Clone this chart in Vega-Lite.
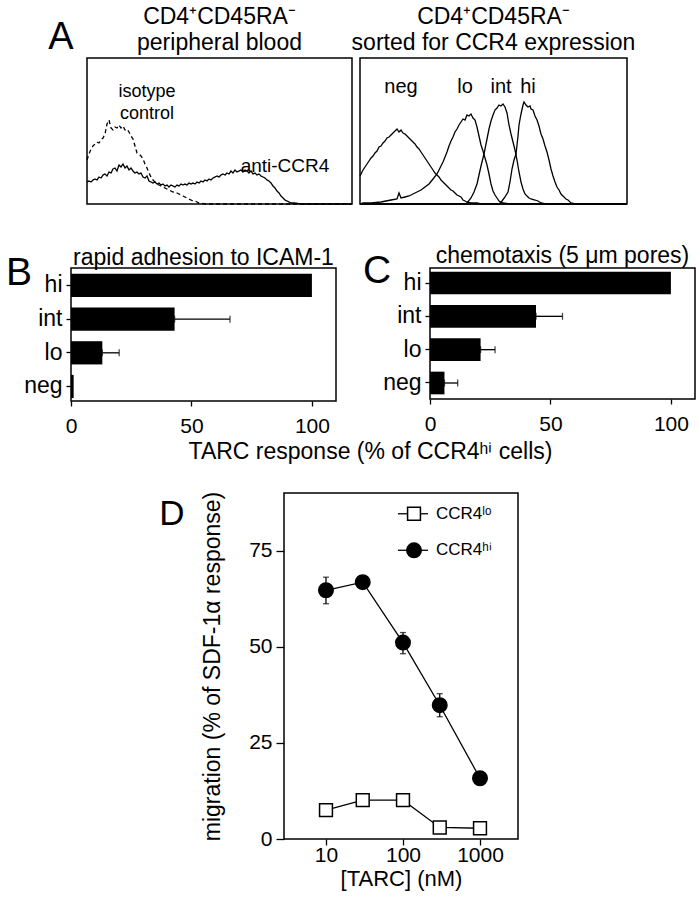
{
"$schema": "https://vega.github.io/schema/vega-lite/v6.json",
"background": "white",
"padding": {"left": 5, "top": 5, "right": 2, "bottom": 2},
"config": {
  "font": "Liberation Sans",
  "view": {"stroke": "black", "strokeWidth": 1.5},
  "axis": {"domain": false, "grid": false, "tickColor": "black", "tickWidth": 1.3, "labelColor": "black", "titleColor": "black", "labelFont": "Liberation Sans", "titleFont": "Liberation Sans", "titleFontWeight": "normal", "labelFlush": false, "labelOverlap": false},
  "title": {"font": "Liberation Sans", "fontWeight": "normal", "color": "black"},
  "text": {"font": "Liberation Sans", "color": "black"}
},
"spacing": 10,
"vconcat": [
  {
    "bounds": "flush",
    "spacing": 8,
    "hconcat": [
      {"width": 8, "height": 146, "view": {"stroke": null}, "data": {"values": [{}]},
       "mark": {"type": "text", "fontSize": 38, "align": "center", "baseline": "alphabetic"},
       "encoding": {"x": {"datum": -10, "scale": {"domain": [0, 8], "nice": false}, "axis": null}, "y": {"datum": 155, "scale": {"domain": [0, 146], "nice": false}, "axis": null}, "text": {"value": "A"}}},
      {
        "width": 265, "height": 146,
        "title": {"text": ["CD4⁺CD45RA⁻", "peripheral blood"], "fontSize": 23, "lineHeight": 26, "offset": 3, "frame": "group"},
        "data": {"values": "stain,ch,n\nanti-CCR4,0,22\nanti-CCR4,2,23\nanti-CCR4,4,22\nanti-CCR4,6,24\nanti-CCR4,8,25\nanti-CCR4,10,24\nanti-CCR4,12,27\nanti-CCR4,14,26\nanti-CCR4,16,29\nanti-CCR4,18,30\nanti-CCR4,20,28\nanti-CCR4,22,32\nanti-CCR4,24,31\nanti-CCR4,26,35\nanti-CCR4,28,36\nanti-CCR4,30,33\nanti-CCR4,32,39\nanti-CCR4,34,37\nanti-CCR4,36,40\nanti-CCR4,38,36\nanti-CCR4,40,38\nanti-CCR4,42,34\nanti-CCR4,44,36\nanti-CCR4,46,33\nanti-CCR4,48,31\nanti-CCR4,50,32\nanti-CCR4,52,30\nanti-CCR4,54,31\nanti-CCR4,56,27\nanti-CCR4,58,26\nanti-CCR4,60,28\nanti-CCR4,62,23\nanti-CCR4,64,22\nanti-CCR4,66,21\nanti-CCR4,68,22\nanti-CCR4,70,20\nanti-CCR4,72,21\nanti-CCR4,74,19\nanti-CCR4,76,20\nanti-CCR4,78,18\nanti-CCR4,80,19\nanti-CCR4,82,17\nanti-CCR4,84,19\nanti-CCR4,86,18\nanti-CCR4,88,17\nanti-CCR4,90,19\nanti-CCR4,92,18\nanti-CCR4,94,20\nanti-CCR4,96,19\nanti-CCR4,98,20\nanti-CCR4,100,19\nanti-CCR4,102,21\nanti-CCR4,104,20\nanti-CCR4,106,21\nanti-CCR4,108,20\nanti-CCR4,110,22\nanti-CCR4,112,21\nanti-CCR4,114,23\nanti-CCR4,116,22\nanti-CCR4,118,24\nanti-CCR4,120,23\nanti-CCR4,122,25\nanti-CCR4,124,24\nanti-CCR4,126,26\nanti-CCR4,128,27\nanti-CCR4,130,28\nanti-CCR4,132,27\nanti-CCR4,134,29\nanti-CCR4,136,30\nanti-CCR4,138,29\nanti-CCR4,140,31\nanti-CCR4,142,30\nanti-CCR4,144,33\nanti-CCR4,146,31\nanti-CCR4,148,34\nanti-CCR4,150,32\nanti-CCR4,152,33\nanti-CCR4,154,34\nanti-CCR4,156,32\nanti-CCR4,158,34\nanti-CCR4,160,33\nanti-CCR4,162,31\nanti-CCR4,164,33\nanti-CCR4,166,30\nanti-CCR4,168,31\nanti-CCR4,170,29\nanti-CCR4,172,30\nanti-CCR4,174,28\nanti-CCR4,176,27\nanti-CCR4,178,26\nanti-CCR4,180,24\nanti-CCR4,182,23\nanti-CCR4,184,21\nanti-CCR4,186,18\nanti-CCR4,188,16\nanti-CCR4,190,13\nanti-CCR4,192,11\nanti-CCR4,194,8\nanti-CCR4,196,6\nanti-CCR4,198,4\nanti-CCR4,200,3\nanti-CCR4,202,2\nanti-CCR4,204,1\nanti-CCR4,208,1\nanti-CCR4,214,0\nanti-CCR4,265,0\nisotype,0,44\nisotype,2,50\nisotype,4,55\nisotype,6,58\nisotype,8,60\nisotype,10,62\nisotype,12,61\nisotype,14,64\nisotype,16,66\nisotype,18,70\nisotype,20,80\nisotype,22,84\nisotype,24,76\nisotype,26,74\nisotype,28,77\nisotype,30,76\nisotype,32,79\nisotype,34,76\nisotype,36,78\nisotype,38,74\nisotype,40,75\nisotype,42,72\nisotype,44,68\nisotype,46,65\nisotype,48,58\nisotype,50,51\nisotype,52,50\nisotype,54,48\nisotype,56,45\nisotype,58,40\nisotype,60,36\nisotype,62,31\nisotype,64,27\nisotype,66,24\nisotype,68,22\nisotype,70,20\nisotype,72,19\nisotype,74,18\nisotype,76,17\nisotype,78,16\nisotype,80,15\nisotype,82,14\nisotype,84,13\nisotype,86,12\nisotype,88,12\nisotype,90,11\nisotype,92,10\nisotype,94,9\nisotype,96,8\nisotype,98,7\nisotype,100,6\nisotype,102,5\nisotype,104,4\nisotype,106,3\nisotype,108,3\nisotype,110,2\nisotype,112,1\nisotype,114,1\nisotype,118,0\nisotype,265,0", "format": {"type": "csv", "parse": {"ch": "number", "n": "number"}}},
        "layer": [
          {"mark": {"type": "line", "color": "black", "strokeWidth": 1.3},
           "encoding": {
             "x": {"field": "ch", "type": "quantitative", "scale": {"domain": [0, 265], "nice": false}, "axis": null},
             "y": {"field": "n", "type": "quantitative", "scale": {"domain": [0, 146], "nice": false}, "axis": null},
             "strokeDash": {"field": "stain", "type": "nominal", "scale": {"domain": ["anti-CCR4", "isotype"], "range": [[1, 0], [4, 3]]}, "legend": null}
           }},
          {"data": {"values": [{}]}, "mark": {"type": "text", "fontSize": 18, "align": "center", "baseline": "alphabetic"}, "encoding": {"x": {"datum": 60}, "y": {"datum": 107}, "text": {"value": "isotype"}}},
          {"data": {"values": [{}]}, "mark": {"type": "text", "fontSize": 18, "align": "center", "baseline": "alphabetic"}, "encoding": {"x": {"datum": 60}, "y": {"datum": 85}, "text": {"value": "control"}}},
          {"data": {"values": [{}]}, "mark": {"type": "text", "fontSize": 19, "align": "center", "baseline": "alphabetic"}, "encoding": {"x": {"datum": 198}, "y": {"datum": 32}, "text": {"value": "anti-CCR4"}}}
        ]
      },
      {
        "width": 267, "height": 146,
        "title": {"text": ["CD4⁺CD45RA⁻", "sorted for CCR4 expression"], "fontSize": 23, "lineHeight": 26, "offset": 3, "frame": "group"},
        "data": {"values": "grp,ch,n\nneg,0,28\nneg,1,30\nneg,3,34\nneg,5,37\nneg,7,40\nneg,9,43\nneg,11,46\nneg,13,48\nneg,15,51\nneg,17,53\nneg,19,57\nneg,21,58\nneg,23,61\nneg,25,63\nneg,27,66\nneg,29,67\nneg,31,69\nneg,33,71\nneg,35,73\nneg,37,75\nneg,39,72\nneg,41,74\nneg,43,71\nneg,45,70\nneg,47,68\nneg,49,66\nneg,51,64\nneg,53,62\nneg,55,60\nneg,57,57\nneg,59,55\nneg,61,52\nneg,63,49\nneg,65,46\nneg,67,43\nneg,69,40\nneg,71,37\nneg,73,34\nneg,75,31\nneg,77,29\nneg,79,27\nneg,81,24\nneg,83,22\nneg,85,20\nneg,87,18\nneg,89,16\nneg,91,14\nneg,93,13\nneg,95,11\nneg,97,9\nneg,99,8\nneg,101,7\nneg,103,4\nneg,105,3\nneg,107,2\nneg,111,1\nneg,117,1\nneg,121,0\nneg,267,0\nlo,0,0\nlo,3,1\nlo,11,1\nlo,21,2\nlo,31,4\nlo,37,5\nlo,39,11\nlo,41,6\nlo,45,7\nlo,49,8\nlo,53,10\nlo,57,12\nlo,61,14\nlo,65,17\nlo,69,20\nlo,73,25\nlo,77,30\nlo,79,34\nlo,81,38\nlo,83,42\nlo,85,47\nlo,87,52\nlo,89,58\nlo,91,63\nlo,93,67\nlo,95,72\nlo,97,75\nlo,99,79\nlo,101,82\nlo,103,85\nlo,105,84\nlo,107,89\nlo,109,88\nlo,111,90\nlo,113,86\nlo,115,84\nlo,117,77\nlo,119,68\nlo,121,59\nlo,123,53\nlo,125,46\nlo,127,39\nlo,129,30\nlo,131,20\nlo,133,13\nlo,135,9\nlo,137,6\nlo,139,3\nlo,143,1\nlo,151,0\nlo,267,0\nint,0,0\nint,104,0\nint,107,1\nint,111,6\nint,114,12\nint,117,20\nint,119,29\nint,121,38\nint,124,50\nint,127,65\nint,129,75\nint,131,83\nint,133,89\nint,135,94\nint,137,96\nint,139,99\nint,141,98\nint,143,100\nint,145,97\nint,147,91\nint,149,79\nint,151,70\nint,153,62\nint,155,54\nint,157,44\nint,159,32\nint,161,22\nint,163,15\nint,165,10\nint,167,8\nint,169,6\nint,171,5\nint,175,4\nint,178,3\nint,181,1\nint,186,0\nint,267,0\nhi,0,0\nhi,139,0\nhi,142,3\nhi,145,7\nhi,148,12\nhi,150,22\nhi,152,35\nhi,154,44\nhi,156,50\nhi,158,68\nhi,159,79\nhi,161,90\nhi,163,99\nhi,164,102\nhi,166,99\nhi,168,97\nhi,170,98\nhi,171,95\nhi,173,94\nhi,175,88\nhi,177,84\nhi,179,78\nhi,181,70\nhi,183,65\nhi,185,58\nhi,187,52\nhi,189,44\nhi,191,35\nhi,193,28\nhi,195,22\nhi,197,17\nhi,199,14\nhi,201,10\nhi,204,7\nhi,206,5\nhi,208,4\nhi,211,1\nhi,216,0\nhi,267,0", "format": {"type": "csv", "parse": {"ch": "number", "n": "number"}}},
        "layer": [
          {"mark": {"type": "line", "color": "black", "strokeWidth": 1.3},
           "encoding": {
             "x": {"field": "ch", "type": "quantitative", "scale": {"domain": [0, 267], "nice": false}, "axis": null},
             "y": {"field": "n", "type": "quantitative", "scale": {"domain": [0, 146], "nice": false}, "axis": null},
             "detail": {"field": "grp", "type": "nominal"}
           }},
          {"data": {"values": [{}]}, "mark": {"type": "text", "fontSize": 20, "align": "center", "baseline": "alphabetic"}, "encoding": {"x": {"datum": 41}, "y": {"datum": 111}, "text": {"value": "neg"}}},
          {"data": {"values": [{}]}, "mark": {"type": "text", "fontSize": 20, "align": "center", "baseline": "alphabetic"}, "encoding": {"x": {"datum": 105}, "y": {"datum": 111}, "text": {"value": "lo"}}},
          {"data": {"values": [{}]}, "mark": {"type": "text", "fontSize": 20, "align": "center", "baseline": "alphabetic"}, "encoding": {"x": {"datum": 141}, "y": {"datum": 111}, "text": {"value": "int"}}},
          {"data": {"values": [{}]}, "mark": {"type": "text", "fontSize": 20, "align": "center", "baseline": "alphabetic"}, "encoding": {"x": {"datum": 168}, "y": {"datum": 111}, "text": {"value": "hi"}}}
        ]
      }
    ]
  },
  {"width": 10, "height": 16, "view": {"stroke": null}, "data": {"values": []}, "mark": "point", "encoding": {}},
  {
    "bounds": "flush",
    "spacing": 94,
    "title": {"text": "TARC response (% of CCR4ʰⁱ cells)", "orient": "bottom", "anchor": "middle", "fontSize": 23, "offset": 4, "dx": 20},
    "hconcat": [
      {
        "width": 265, "height": 133,
        "title": {"text": "rapid adhesion to ICAM-1", "fontSize": 23, "offset": -16, "frame": "group"},
        "data": {"values": [{"grp": "hi", "v": 100, "up": 100}, {"grp": "int", "v": 43, "up": 66}, {"grp": "lo", "v": 13, "up": 20}, {"grp": "neg", "v": 1.1, "up": 1.1}]},
        "layer": [
          {"mark": {"type": "bar", "color": "black"},
           "encoding": {
             "y": {"field": "grp", "type": "nominal", "scale": {"domain": ["hi", "int", "lo", "neg"], "paddingInner": 0.31, "paddingOuter": 0.13, "align": 0.67}, "axis": {"title": null, "labelFontSize": 23, "tickSize": 5, "labelPadding": 4}},
             "x": {"field": "v", "type": "quantitative", "scale": {"domain": [0, 110], "nice": false}, "axis": {"title": null, "values": [0, 50, 100], "labelFontSize": 21, "tickSize": 5, "labelPadding": 9}}
           }},
          {"transform": [{"filter": "datum.up > datum.v"}],
           "mark": {"type": "errorbar", "color": "black", "ticks": {"size": 7, "thickness": 1.3, "color": "black"}, "rule": {"strokeWidth": 1.3, "color": "black"}},
           "encoding": {"y": {"field": "grp", "type": "nominal"}, "x": {"field": "v", "type": "quantitative", "axis": {"title": null}}, "x2": {"field": "up"}}},
          {"data": {"values": [{}]}, "mark": {"type": "text", "fontSize": 39, "align": "center", "baseline": "alphabetic"}, "encoding": {"x": {"datum": -21.6}, "y": {"datum": "hi"}, "text": {"value": "B"}}}
        ]
      },
      {
        "width": 265, "height": 131,
        "title": {"text": "chemotaxis (5 μm pores)", "fontSize": 23, "offset": -16, "frame": "group"},
        "data": {"values": [{"grp": "hi", "v": 100, "up": 100}, {"grp": "int", "v": 44, "up": 55}, {"grp": "lo", "v": 21, "up": 27}, {"grp": "neg", "v": 6, "up": 11.5}]},
        "layer": [
          {"mark": {"type": "bar", "color": "black"},
           "encoding": {
             "y": {"field": "grp", "type": "nominal", "scale": {"domain": ["hi", "int", "lo", "neg"], "paddingInner": 0.32, "paddingOuter": 0.125, "align": 0.44}, "axis": {"title": null, "labelFontSize": 23, "tickSize": 5, "labelPadding": 4}},
             "x": {"field": "v", "type": "quantitative", "scale": {"domain": [0, 110], "nice": false}, "axis": {"title": null, "values": [0, 50, 100], "labelFontSize": 21, "tickSize": 5, "labelPadding": 9}}
           }},
          {"transform": [{"filter": "datum.up > datum.v"}],
           "mark": {"type": "errorbar", "color": "black", "ticks": {"size": 7, "thickness": 1.3, "color": "black"}, "rule": {"strokeWidth": 1.3, "color": "black"}},
           "encoding": {"y": {"field": "grp", "type": "nominal"}, "x": {"field": "v", "type": "quantitative", "axis": {"title": null}}, "x2": {"field": "up"}}},
          {"data": {"values": [{}]}, "mark": {"type": "text", "fontSize": 39, "align": "center", "baseline": "alphabetic"}, "encoding": {"x": {"datum": -22}, "y": {"datum": "hi"}, "text": {"value": "C"}}}
        ]
      }
    ]
  },
  {"width": 10, "height": 6, "view": {"stroke": null}, "data": {"values": []}, "mark": "point", "encoding": {}},
  {
    "bounds": "flush",
    "spacing": 20,
    "hconcat": [
      {"width": 193, "height": 50, "view": {"stroke": null}, "data": {"values": []}, "mark": "point", "encoding": {}},
      {
        "width": 234, "height": 346,
        "data": {"values": [
          {"grp": "lo", "conc": 10, "v": 7.5},
          {"grp": "lo", "conc": 30, "v": 10.1},
          {"grp": "lo", "conc": 100, "v": 10.1},
          {"grp": "lo", "conc": 300, "v": 3.0},
          {"grp": "lo", "conc": 1000, "v": 2.8},
          {"grp": "hi", "conc": 10, "v": 64.7, "low": 61.2, "high": 68.1},
          {"grp": "hi", "conc": 30, "v": 66.8},
          {"grp": "hi", "conc": 100, "v": 51.1, "low": 48.2, "high": 53.7},
          {"grp": "hi", "conc": 300, "v": 34.8, "low": 31.8, "high": 37.8},
          {"grp": "hi", "conc": 1000, "v": 15.8}
        ]},
        "layer": [
          {"mark": {"type": "line", "color": "black", "strokeWidth": 1.3},
           "encoding": {
             "x": {"field": "conc", "type": "quantitative", "scale": {"type": "log", "domain": [2.85, 3115], "nice": false}, "axis": {"title": "[TARC] (nM)", "values": [10, 100, 1000], "format": "d", "labelFontSize": 21, "titleFontSize": 22, "tickSize": 6, "labelPadding": -1, "titlePadding": 3}},
             "y": {"field": "v", "type": "quantitative", "scale": {"domain": [0, 90], "nice": false}, "axis": {"title": "migration (% of SDF-1α response)", "values": [0, 25, 50, 75], "labelFontSize": 21, "titleFontSize": 23, "tickSize": 8, "labelPadding": 4, "titlePadding": 24}},
             "detail": {"field": "grp", "type": "nominal"}
           }},
          {"transform": [{"filter": "isValid(datum.low)"}],
           "mark": {"type": "errorbar", "color": "black", "ticks": {"size": 6, "thickness": 1.3, "color": "black"}, "rule": {"strokeWidth": 1.3, "color": "black"}},
           "encoding": {"x": {"field": "conc", "type": "quantitative"}, "y": {"field": "low", "type": "quantitative", "axis": {"title": "migration (% of SDF-1α response)"}}, "y2": {"field": "high"}}},
          {"mark": {"type": "point", "filled": true, "stroke": "black", "strokeWidth": 1.5, "opacity": 1},
           "encoding": {
             "x": {"field": "conc", "type": "quantitative"},
             "y": {"field": "v", "type": "quantitative"},
             "shape": {"field": "grp", "type": "nominal", "scale": {"domain": ["lo", "hi"], "range": ["square", "circle"]}, "legend": null},
             "fill": {"field": "grp", "type": "nominal", "scale": {"domain": ["lo", "hi"], "range": ["white", "black"]}, "legend": null},
             "size": {"field": "grp", "type": "nominal", "scale": {"domain": ["lo", "hi"], "range": [165, 210]}, "legend": null}
           }},
          {"data": {"values": [{}]}, "mark": {"type": "rule", "color": "black", "strokeWidth": 1.3}, "encoding": {"x": {"datum": 86}, "x2": {"datum": 211}, "y": {"datum": 84.6}}},
          {"data": {"values": [{}]}, "mark": {"type": "rule", "color": "black", "strokeWidth": 1.3}, "encoding": {"x": {"datum": 86}, "x2": {"datum": 211}, "y": {"datum": 75.1}}},
          {"data": {"values": [{}]}, "mark": {"type": "point", "shape": "square", "filled": true, "fill": "white", "stroke": "black", "strokeWidth": 1.5, "size": 165, "opacity": 1}, "encoding": {"x": {"datum": 139}, "y": {"datum": 84.6}}},
          {"data": {"values": [{}]}, "mark": {"type": "point", "shape": "circle", "filled": true, "fill": "black", "stroke": "black", "strokeWidth": 1.5, "size": 210, "opacity": 1}, "encoding": {"x": {"datum": 139}, "y": {"datum": 75.1}}},
          {"data": {"values": [{}]}, "mark": {"type": "text", "fontSize": 17, "align": "left", "baseline": "middle"}, "encoding": {"x": {"datum": 268}, "y": {"datum": 84.6}, "text": {"value": "CCR4ˡᵒ"}}},
          {"data": {"values": [{}]}, "mark": {"type": "text", "fontSize": 17, "align": "left", "baseline": "middle"}, "encoding": {"x": {"datum": 268}, "y": {"datum": 75.1}, "text": {"value": "CCR4ʰⁱ"}}},
          {"data": {"values": [{}]}, "mark": {"type": "text", "fontSize": 35, "align": "center", "baseline": "alphabetic"}, "encoding": {"x": {"datum": 0.1}, "y": {"datum": 81.6}, "text": {"value": "D"}}}
        ]
      }
    ]
  }
]
}
